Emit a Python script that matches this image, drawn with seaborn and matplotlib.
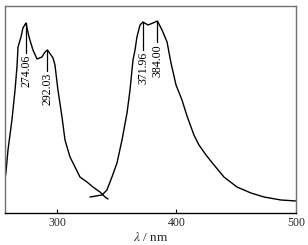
import numpy as np
import pandas as pd
import matplotlib
matplotlib.use("Agg")
import matplotlib.pyplot as plt
import seaborn as sns

# Excitation spectrum (left)
exc_nm = [257.1, 259.0, 262.3, 264.9, 266.5, 267.4, 269.9, 271.5, 274.06,
          276.6, 279.9, 283.3, 287.4, 290.0, 292.03, 296.7, 298.3, 300.8,
          304.2, 306.7, 310.9, 315.1, 319.2, 325.1, 330.1, 336.0, 340.2, 342.7]
exc_int = [38, 63, 93, 123, 146, 166, 176, 185, 190,
           176, 163, 154, 156, 161, 163, 155, 148, 123,
           96, 73, 56, 46, 36, 31, 26, 21, 16, 14]

# Emission spectrum (right)
em_nm = [327.6, 337.7, 341.8, 346.0, 350.2, 354.4, 358.6, 361.1, 363.6, 365.3,
         366.9, 369.5, 371.96, 376.2, 380.3, 384.0, 387.9, 392.1, 395.4, 399.6,
         404.6, 408.8, 414.6, 418.8, 424.7, 431.4, 439.7, 450.6, 462.3, 473.2,
         487.4, 500.0]
em_int = [16, 18, 23, 36, 50, 73, 100, 123, 153, 163,
          176, 188, 191, 188, 190, 192, 183, 171, 150, 128,
          113, 97, 78, 68, 58, 48, 36, 26, 20, 16,
          13, 12]

peak_nm = [274.06, 292.03, 371.96, 384.00]
peak_int = [190, 163, 191, 192]
peak_labels = ["274.06", "292.03", "371.96", "384.00"]
line_len = [30, 21, 28, 21]

xticks = [300, 400, 500]

sns.set_theme(style="white")
plt.rcParams['font.family'] = ['Liberation Serif', 'DejaVu Serif']
plt.rcParams['mathtext.fontset'] = 'stix'

fig = plt.figure(figsize=(3.08, 2.45), dpi=100)
ax = fig.add_axes([5/308, 1 - 213/245, 291/308, 207/245])

df_e = pd.DataFrame({"nm": exc_nm, "I": exc_int})
df_m = pd.DataFrame({"nm": em_nm, "I": em_int})
sns.lineplot(data=df_e, x="nm", y="I", ax=ax, color="black", lw=1.0, sort=False)
sns.lineplot(data=df_m, x="nm", y="I", ax=ax, color="black", lw=1.0, sort=False)

for x, y, L, lab in zip(peak_nm, peak_int, line_len, peak_labels):
    ax.plot([x, x], [y, y - L], color="black", lw=0.9)
    ax.text(x + 0.3, y - L - 2, lab, rotation=90, ha="center", va="top",
            fontsize=8.5, color="black")

ax.set_xlim(256.5, 500)
ax.set_ylim(0, 207)
ax.set_xticks(xticks)
ax.set_xticklabels([str(t) for t in xticks])
ax.set_yticks([])
ax.tick_params(axis="x", direction="in", length=3, width=0.8, color="black",
               labelsize=8.5, pad=3, bottom=True)
ax.set_xlabel(r"$\lambda$ / nm", fontsize=9.5, labelpad=1)
ax.set_ylabel("")

for s in ["left", "top", "right"]:
    ax.spines[s].set_color("#707070")
    ax.spines[s].set_linewidth(1.0)
ax.spines["bottom"].set_color("black")
ax.spines["bottom"].set_linewidth(1.0)

fig.savefig("out.png", dpi=100)
